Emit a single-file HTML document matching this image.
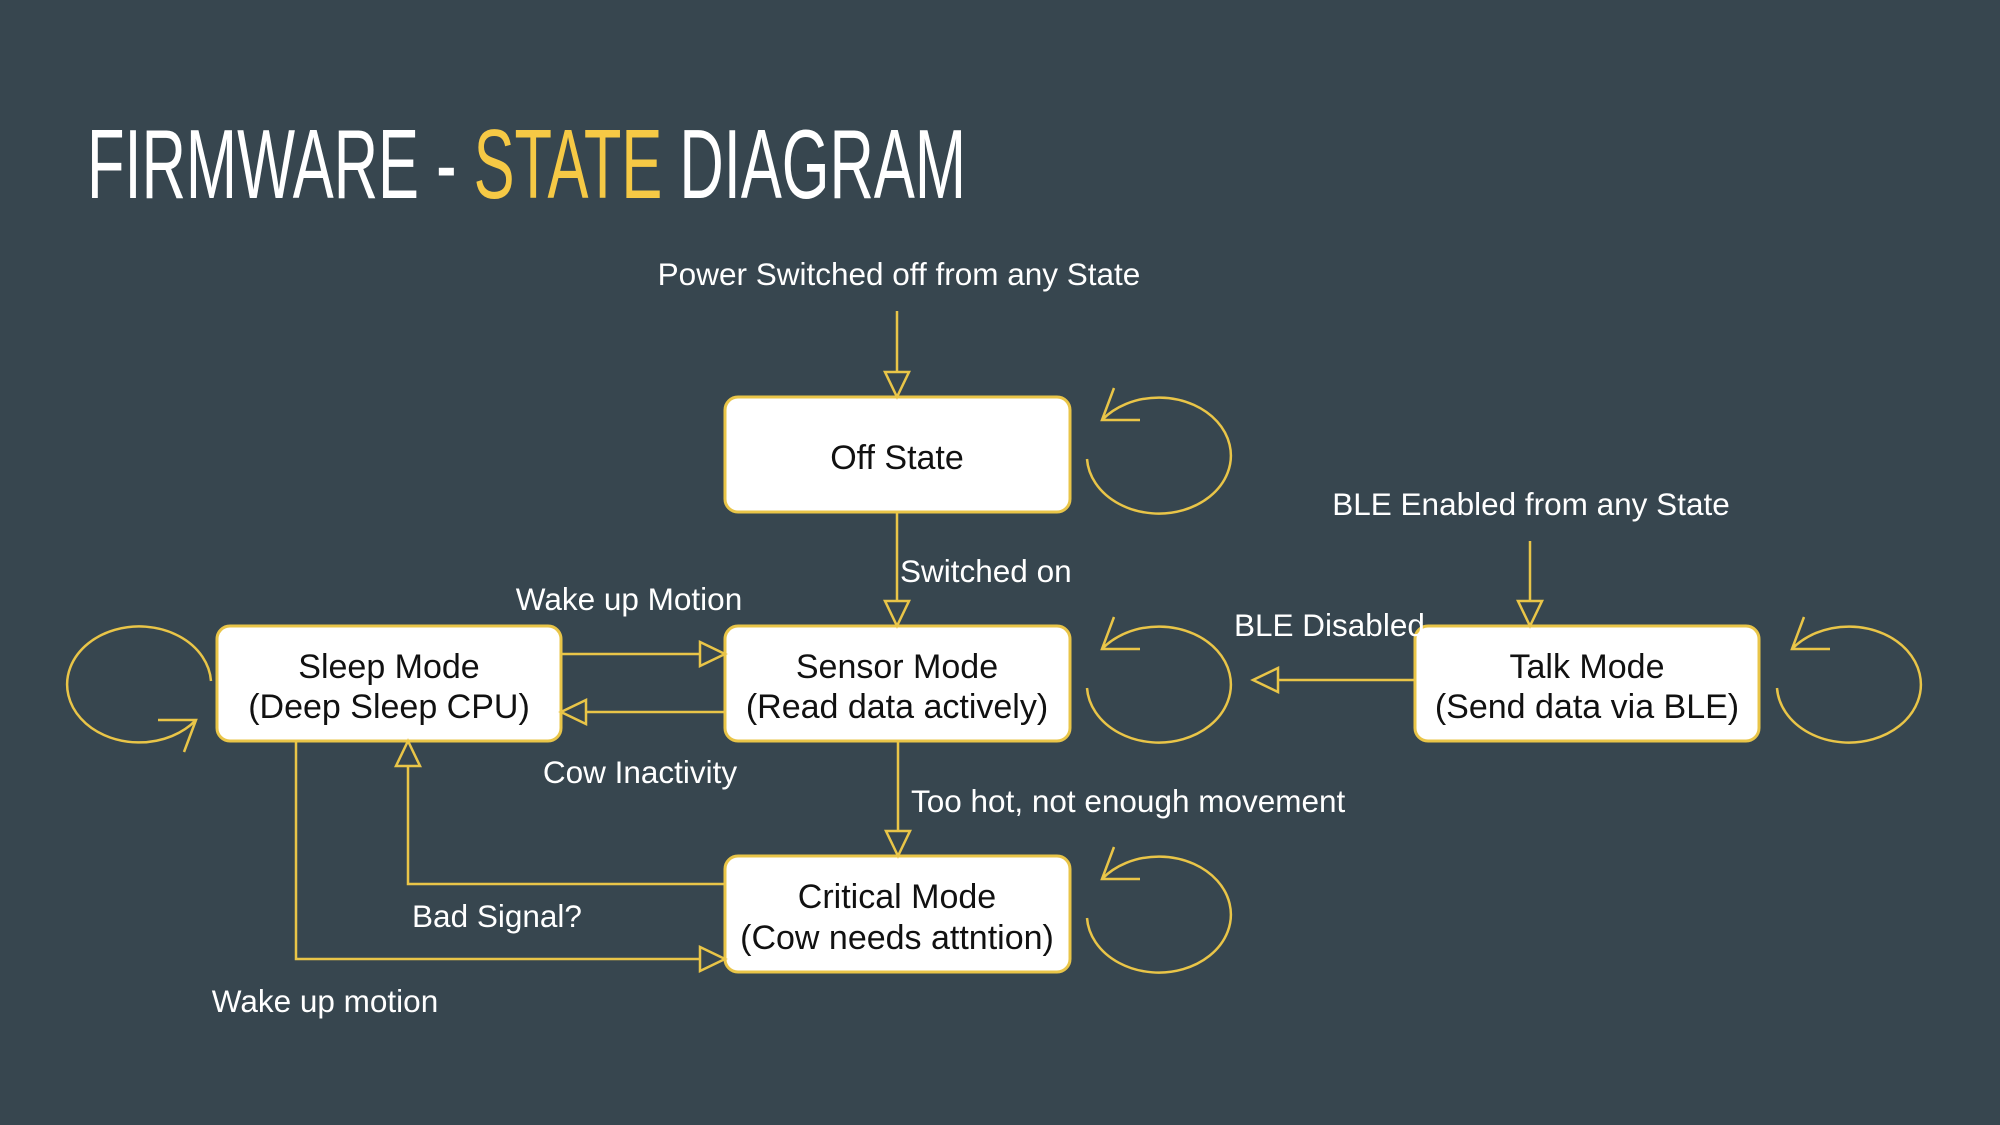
<!DOCTYPE html>
<html><head><meta charset="utf-8"><style>
html,body{margin:0;padding:0;background:#37464f;}
svg{display:block}
text{font-family:"Liberation Sans",Arial,sans-serif;}
</style></head><body>
<svg width="2000" height="1125" viewBox="0 0 2000 1125" xmlns="http://www.w3.org/2000/svg">
<rect width="2000" height="1125" fill="#37464f"/>
<text x="87" y="198" font-size="98" fill="#ffffff" textLength="879" lengthAdjust="spacingAndGlyphs">FIRMWARE - <tspan fill="#f6c945">STATE</tspan> DIAGRAM</text>

<g fill="#ffffff" stroke="#e9c548" stroke-width="3">
<rect x="725" y="397" width="345" height="115" rx="13"/>
<rect x="725" y="626" width="345" height="115" rx="13"/>
<rect x="725" y="856" width="345" height="116" rx="13"/>
<rect x="217" y="626" width="344" height="115" rx="13"/>
<rect x="1415" y="626" width="344" height="115" rx="13"/>
</g>

<g fill="none" stroke="#e9c548" stroke-width="2.5">
<line x1="897" y1="311" x2="897" y2="372"/>
<line x1="897" y1="512" x2="897" y2="601"/>
<line x1="898" y1="741" x2="898" y2="831"/>
<line x1="1530" y1="541" x2="1530" y2="601"/>
<line x1="561" y1="654" x2="700" y2="654"/>
<line x1="586" y1="712" x2="725" y2="712"/>
<line x1="1278" y1="680" x2="1415" y2="680"/>
<polyline points="725,884 408,884 408,766"/>
<polyline points="296,741 296,959 700,959"/>
</g>
<g fill="#37464f" stroke="#e9c548" stroke-width="2.5">
<polygon points="885,372 909,372 897,397"/>
<polygon points="885,601 909,601 897,626"/>
<polygon points="886,831 910,831 898,856"/>
<polygon points="1518,601 1542,601 1530,626"/>
<polygon points="700,642 700,666 725,654"/>
<polygon points="586,700 586,724 561,712"/>
<polygon points="1278,668 1278,692 1253,680"/>
<polygon points="396,766 420,766 408,741"/>
<polygon points="700,947 700,971 725,959"/>
</g>

<g fill="none" stroke="#e9c548" stroke-width="2.5">
<path d="M1087,459 A72 58 0 1 0 1102,420 M1140,420 L1102,420 L1114,388"/>
<path d="M1087,688 A72 58 0 1 0 1102,649 M1140,649 L1102,649 L1114,617"/>
<path d="M1087,918 A72 58 0 1 0 1102,879 M1140,879 L1102,879 L1114,847"/>
<path d="M1777,688 A72 58 0 1 0 1792,649 M1830,649 L1792,649 L1804,617"/>
<path d="M211,681 A72 58 0 1 0 196,720 M158,720 L196,720 L184,752"/>
</g>

<g fill="#111" font-size="34" text-anchor="middle">
<text x="897" y="469">Off State</text>
<text x="897" y="678">Sensor Mode</text>
<text x="897" y="718">(Read data actively)</text>
<text x="897" y="908">Critical Mode</text>
<text x="897" y="949">(Cow needs attntion)</text>
<text x="389" y="678">Sleep Mode</text>
<text x="389" y="718">(Deep Sleep CPU)</text>
<text x="1587" y="678">Talk Mode</text>
<text x="1587" y="718">(Send data via BLE)</text>
</g>

<g fill="#ffffff" font-size="31.5">
<text x="899" y="285" text-anchor="middle">Power Switched off from any State</text>
<text x="900" y="582">Switched on</text>
<text x="629" y="610" text-anchor="middle">Wake up Motion</text>
<text x="640" y="783" text-anchor="middle">Cow Inactivity</text>
<text x="911" y="812">Too hot, not enough movement</text>
<text x="497" y="927" text-anchor="middle">Bad Signal?</text>
<text x="325" y="1012" text-anchor="middle">Wake up motion</text>
<text x="1234" y="636">BLE Disabled</text>
<text x="1531" y="515" text-anchor="middle">BLE Enabled from any State</text>
</g>
</svg>
</body></html>
